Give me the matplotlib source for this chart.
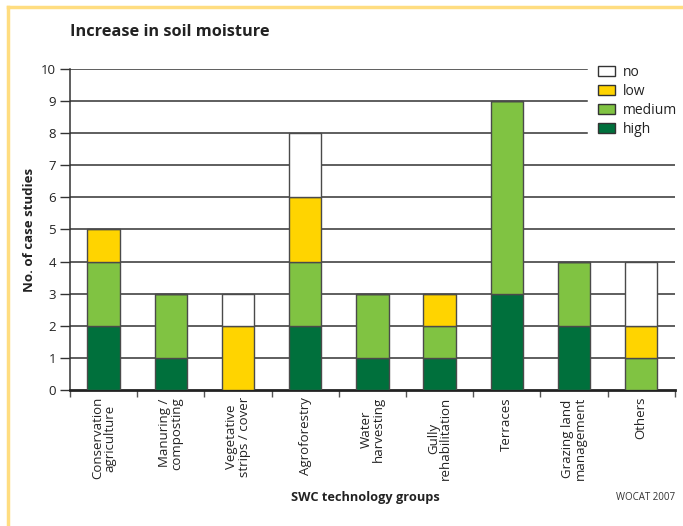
import matplotlib
matplotlib.use("Agg")
import matplotlib.pyplot as plt
from matplotlib.patches import Patch
from matplotlib.lines import Line2D

plt.rcParams['font.family'] = ['Open Sans', 'DejaVu Sans']

categories = [
    "Conservation\nagriculture",
    "Manuring /\ncomposting",
    "Vegetative\nstrips / cover",
    "Agroforestry",
    "Water\nharvesting",
    "Gully\nrehabilitation",
    "Terraces",
    "Grazing land\nmanagement",
    "Others",
]
high = [2, 1, 0, 2, 1, 1, 3, 2, 0]
medium = [2, 2, 0, 2, 2, 1, 6, 2, 1]
low = [1, 0, 2, 2, 0, 1, 0, 0, 1]
no = [0, 0, 1, 2, 0, 0, 0, 0, 2]

series = [("high", high, "#00703C"),
          ("medium", medium, "#80C342"),
          ("low", low, "#FFD400"),
          ("no", no, "#FFFFFF")]

fig = plt.figure(figsize=(6.83, 5.26), dpi=100)
ax = fig.add_axes([0.1025, 0.2586, 0.8855, 0.6103])

# horizontal grid; the top rows stop short of the legend
for y in range(1, 11):
    xmax = 0.855 if y >= 8 else 1.0
    ax.axhline(y, xmin=0, xmax=xmax, color="#333333", lw=1.1, zorder=1)

x = list(range(len(categories)))
bottom = [0] * len(categories)
for name, vals, col in series:
    ax.bar(x, vals, width=0.48, bottom=bottom, color=col,
           edgecolor="#4a4a4a", linewidth=1.0, zorder=3)
    bottom = [b + v for b, v in zip(bottom, vals)]

ax.set_xlim(-0.5, len(categories) - 0.5)
ax.set_ylim(0, 10)
ax.set_yticks(range(0, 11))
ax.tick_params(axis='y', direction='out', length=7, width=1, color="#333333",
               labelsize=9.5, pad=3, labelcolor="#222222")

ax.set_xticks(x)
ax.set_xticklabels(categories, rotation=90, fontsize=9.5, color="#222222",
                   va='top', ha='center', linespacing=0.95)
ax.tick_params(axis='x', length=0, pad=5)
ax.set_xticks([i - 0.5 for i in range(len(categories) + 1)], minor=True)
ax.tick_params(axis='x', which='minor', direction='out', length=5, width=1,
               color="#555555")

for s in ["top", "right"]:
    ax.spines[s].set_visible(False)
ax.spines["left"].set_linewidth(1.1)
ax.spines["left"].set_color("#333333")
ax.spines["bottom"].set_linewidth(2)
ax.spines["bottom"].set_color("#222222")

ax.set_ylabel("No. of case studies", fontsize=9.5, fontweight='bold',
              color="#222222", labelpad=4)
fig.text(0.102, 0.94, "Increase in soil moisture", fontsize=11.8,
         fontweight='bold', color="#222222", ha='left', va='center')
fig.text(0.535, 0.055, "SWC technology groups", fontsize=9.2,
         fontweight='bold', color="#222222", ha='center', va='center')
fig.text(0.988, 0.055, "WOCAT 2007", fontsize=7, color="#333333",
         ha='right', va='center')

handles = [Patch(facecolor=col, edgecolor="#333333", linewidth=1, label=name)
           for name, _, col in reversed(series)]
leg = fig.legend(handles=handles, loc='upper left',
                 bbox_to_anchor=(0.875, 0.877), frameon=False,
                 fontsize=10, handlelength=1.25, handleheight=0.7,
                 handletextpad=0.55, labelspacing=0.3, borderaxespad=0,
                 borderpad=0)
for t in leg.get_texts():
    t.set_color("#222222")

# light yellow frame along top and left edges
frame = "#FFDD80"
fig.add_artist(Line2D([0.012, 1.0], [0.987, 0.987], color=frame, lw=2.5,
                      transform=fig.transFigure))
fig.add_artist(Line2D([0.012, 0.012], [0.0, 0.987], color=frame, lw=2.5,
                      transform=fig.transFigure))

fig.savefig("out.png", dpi=100)
